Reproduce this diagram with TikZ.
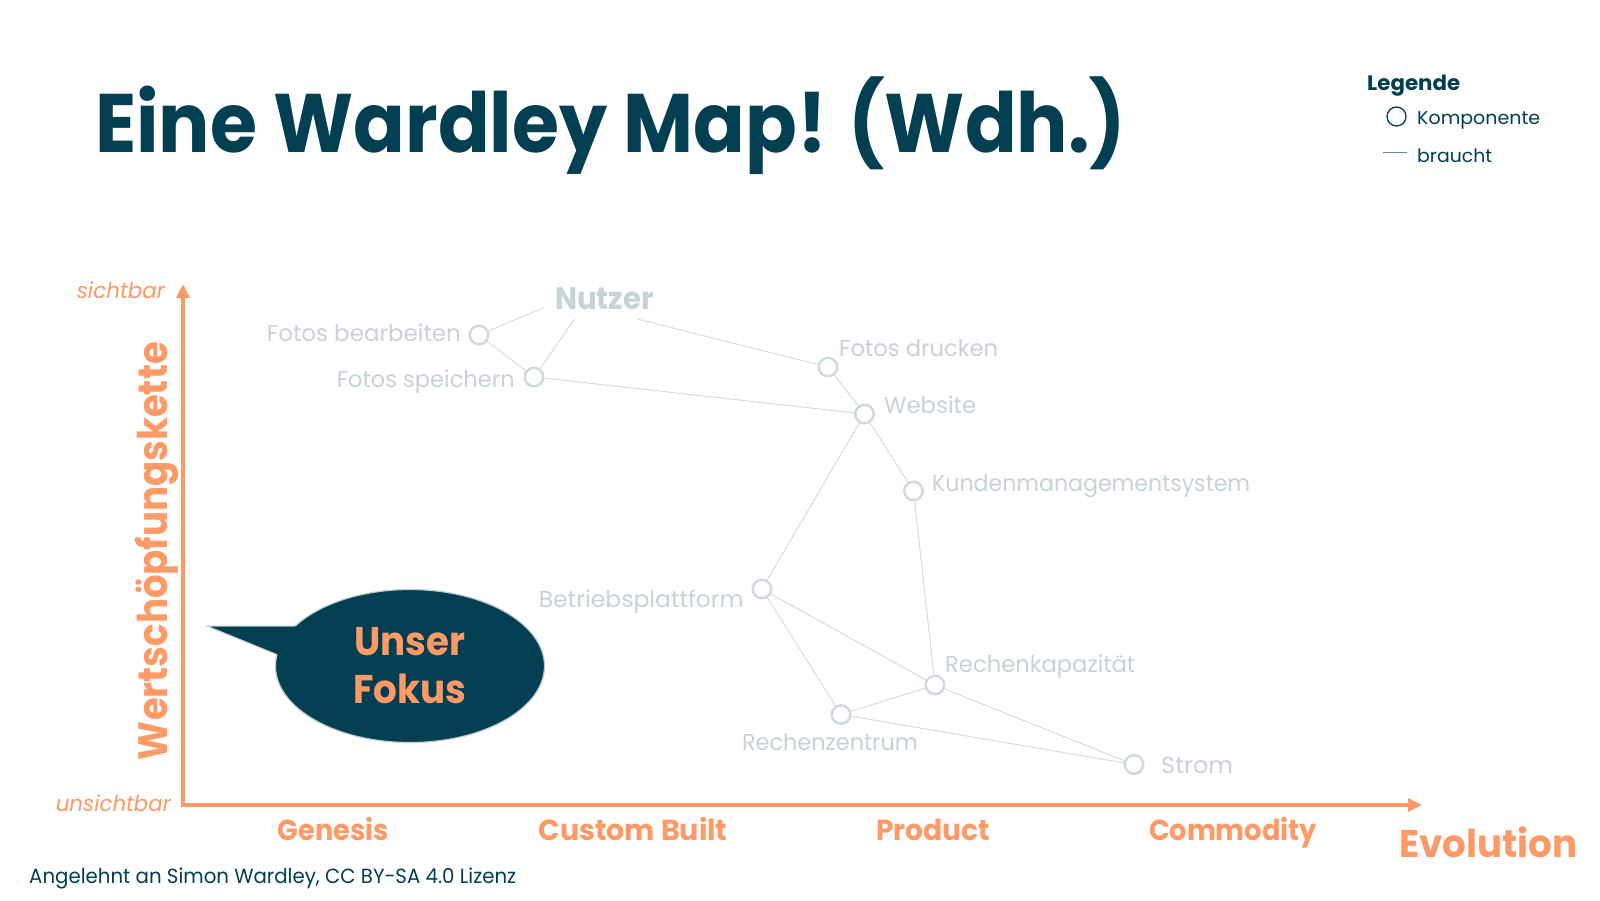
\documentclass[tikz,border=0pt]{standalone}
\usepackage{fontspec}
\setmainfont{Poppins}
\usetikzlibrary{arrows.meta,shapes.geometric}
\definecolor{wteal}{HTML}{023F52}
\definecolor{worange}{HTML}{FF9966}
\definecolor{wgray}{HTML}{CDDADE}
\definecolor{wtext}{HTML}{C6D4D8}
\definecolor{wline}{HTML}{D3DEE1}
\definecolor{wedge}{HTML}{BFCDD2}
\newcommand\fitw[2]{\resizebox{#1}{\height}{#2}}
\begin{document}
\begin{tikzpicture}[x=1pt,y=-1pt,
  comp/.style={circle, draw=wgray, line width=2.4pt, minimum size=18.5pt, inner sep=0pt},
  lbl/.style={font=\fontsize{23}{26}\selectfont, text=wtext, inner sep=0pt},
  dep/.style={draw=wline, line width=1pt},
  axlab/.style={font=\bfseries\fontsize{29}{32}\selectfont, text=worange, inner sep=0pt, anchor=base},
  endlab/.style={font=\itshape\fontsize{22}{26}\selectfont, text=worange, inner sep=0pt, anchor=base east},
  legtxt/.style={font=\fontsize{18.5}{22}\selectfont, text=wteal, inner sep=0pt, anchor=base west}
]
\useasboundingbox[fill=white] (0,0) rectangle (1600,900);

% title
\node[anchor=base west, inner sep=0pt, font=\bfseries\fontsize{83}{90}\selectfont, text=wteal] (title) at (95,152) {\fitw{1031pt}{Eine Wardley Map! (Wdh.)}};

% legend
\node[anchor=base west, inner sep=0pt, font=\bfseries\fontsize{21}{24}\selectfont, text=wteal] (leg) at (1367,90) {\fitw{93pt}{Legende}};
\node[circle, draw=wteal, line width=1.3pt, minimum size=19pt, inner sep=0pt] (legc) at (1396.5,116.5) {};
\node[legtxt] (legk) at (1417,124) {\fitw{123pt}{Komponente}};
\coordinate (legl1) at (1383,152.5);
\coordinate (legl2) at (1407,152.5);
\draw[wteal!60, line width=1pt] (legl1) -- (legl2);
\node[legtxt] (legb) at (1417,162) {\fitw{75pt}{braucht}};

% axes
\coordinate (ytop) at (183,284);
\coordinate (origin) at (183,805);
\coordinate (xend) at (1422,805);
\draw[worange, line width=4pt, {Triangle[length=14pt,width=13pt]}-{Triangle[length=14pt,width=13pt]}] (ytop) -- (origin) -- (xend);

\node[endlab] (sicht) at (165,298) {\fitw{88pt}{sichtbar}};
\node[endlab] (unsicht) at (171,811) {\fitw{115pt}{unsichtbar}};
\node[rotate=90, anchor=base, inner sep=0pt, font=\bfseries\fontsize{41}{46}\selectfont, text=worange] (wsk) at (167,551) {\fitw{418pt}{Wertschöpfungskette}};

\node[axlab] (gen) at (333,840) {\fitw{111pt}{Genesis}};
\node[axlab] (cb) at (633,840) {\fitw{189pt}{Custom Built}};
\node[axlab] (prod) at (933,840) {\fitw{114pt}{Product}};
\node[axlab] (comm) at (1233,840) {\fitw{168pt}{Commodity}};
\node[anchor=base west, inner sep=0pt, font=\bfseries\fontsize{38.5}{42}\selectfont, text=worange] (evo) at (1399,857) {\fitw{178pt}{Evolution}};

% footer
\node[anchor=base west, inner sep=0pt, font=\fontsize{20.5}{24}\selectfont, text=wteal] (foot) at (29,883) {\fitw{487pt}{Angelehnt an Simon Wardley, CC BY-SA 4.0 Lizenz}};

% components
\node[font=\bfseries\fontsize{31}{34}\selectfont, text=wtext, inner xsep=11pt, inner ysep=9pt] (nutzer) at (604.5,299) {\fitw{99pt}{Nutzer}};
\node[comp] (fb) at (479,335) {};
\node[comp] (fs) at (534,377) {};
\node[comp] (fd) at (828,367) {};
\node[comp] (web) at (864.5,414) {};
\node[comp] (kms) at (913.5,491) {};
\node[comp] (bp) at (762,589) {};
\node[comp] (rk) at (935,685) {};
\node[comp] (rz) at (841,714.5) {};
\node[comp] (strom) at (1134,764.5) {};

\node[lbl, anchor=base east] (fbl) at (461,341) {\fitw{194pt}{Fotos bearbeiten}};
\node[lbl, anchor=base east] (fsl) at (515,387) {\fitw{178pt}{Fotos speichern}};
\node[lbl, anchor=base west] (fdl) at (839,356) {\fitw{159pt}{Fotos drucken}};
\node[lbl, anchor=base west] (webl) at (884,413) {\fitw{92pt}{Website}};
\node[lbl, anchor=base west] (kmsl) at (932,491) {\fitw{318pt}{Kundenmanagementsystem}};
\node[lbl, anchor=base east] (bpl) at (744,607) {\fitw{205pt}{Betriebsplattform}};
\node[lbl, anchor=base west] (rkl) at (945,672) {\fitw{190pt}{Rechenkapazität}};
\node[lbl, anchor=base] (rzl) at (830,750) {\fitw{176pt}{Rechenzentrum}};
\node[lbl, anchor=base west] (stroml) at (1161,773) {\fitw{72pt}{Strom}};

% dependencies
\draw[dep] (nutzer.188) -- (fb);
\draw[dep] (nutzer.214) -- (fs);
\draw[dep] (nutzer.329) -- (fd);
\draw[dep] (fb) -- (fs);
\draw[dep] (fs) -- (web);
\draw[dep] (fd) -- (web);
\draw[dep] (web) -- (bp);
\draw[dep] (web) -- (kms);
\draw[dep] (kms) -- (rk);
\draw[dep] (bp) -- (rk);
\draw[dep] (bp) -- (rz);
\draw[dep] (rz) -- (rk);
\draw[dep] (rk) -- (strom);
\draw[dep] (rz) -- (strom);

% callout
\node[ellipse, draw=wedge, line width=1.2pt, fill=wteal, minimum width=269pt, minimum height=153pt, inner sep=0pt] (bubble) at (410,666) {};
\coordinate (tip) at (207,626);
\fill[wteal] (tip) -- (bubble.161) -- (bubble.center) -- (bubble.175) -- cycle;
\draw[wedge, line width=1pt] (bubble.161) -- (tip) -- (bubble.175);
\node[align=center, font=\bfseries\fontsize{40}{48}\selectfont, text=worange, inner sep=0pt] (fokus) at (410,666) {\fitw{111pt}{Unser}\\\fitw{113pt}{Fokus}};
\end{tikzpicture}
\end{document}
